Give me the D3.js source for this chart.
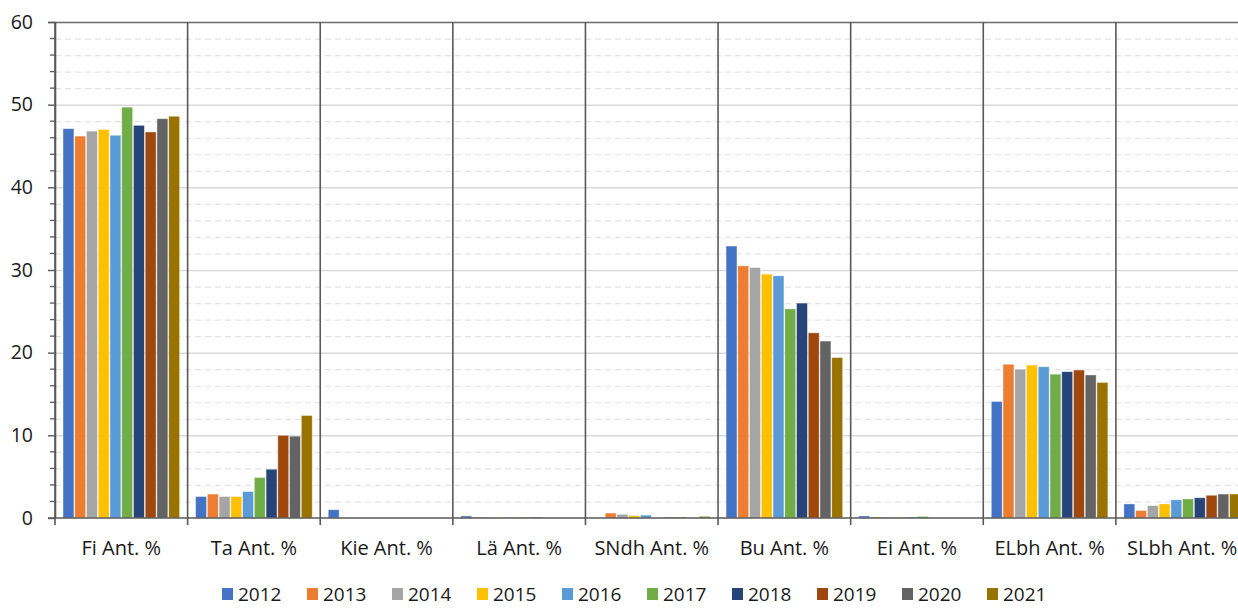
<!DOCTYPE html>
<html lang="de">
<head>
  <meta charset="UTF-8">
  <title>Ant. % nach Jahr</title>
  <script src="https://d3js.org/d3.v7.min.js"></script>
  <style>
    body { margin: 0; background: #fff; font-family: "Open Sans", Arial, sans-serif; }
    svg { display: block; }
  </style>
</head>
<body>
  <div id="chart"></div>
  <script>
    const categories = ["Fi Ant. %", "Ta Ant. %", "Kie Ant. %", "Lä Ant. %", "SNdh Ant. %",
                        "Bu Ant. %", "Ei Ant. %", "ELbh Ant. %", "SLbh Ant. %"];
    const years = ["2012", "2013", "2014", "2015", "2016", "2017", "2018", "2019", "2020", "2021"];
    const colors = ["#4472C4", "#ED7D31", "#A5A5A5", "#FFC000", "#5B9BD5",
                    "#70AD47", "#264478", "#9E480E", "#636363", "#997300"];

    // one array per category, values in year order
    const fi   = [47.1, 46.2, 46.8, 47.0, 46.3, 49.7, 47.5, 46.7, 48.3, 48.6];
    const ta   = [2.6, 2.9, 2.6, 2.6, 3.2, 4.9, 5.9, 10.0, 9.9, 12.4];
    const kie  = [1.0, 0, 0, 0, 0, 0, 0, 0, 0, 0];
    const lae  = [0.25, 0.1, 0.08, 0.08, 0.08, 0.08, 0.1, 0, 0, 0];
    const sndh = [0, 0.6, 0.45, 0.3, 0.35, 0, 0.1, 0.1, 0, 0.2];
    const bu   = [32.9, 30.5, 30.3, 29.5, 29.3, 25.3, 26.0, 22.4, 21.4, 19.4];
    const ei   = [0.25, 0.12, 0.1, 0.1, 0.12, 0.2, 0, 0, 0, 0];
    const elbh = [14.1, 18.6, 18.0, 18.5, 18.3, 17.4, 17.7, 17.9, 17.3, 16.4];
    const slbh = [1.7, 0.9, 1.5, 1.7, 2.2, 2.3, 2.45, 2.75, 2.9, 2.9];
    const series = [fi, ta, kie, lae, sndh, bu, ei, elbh, slbh];

    const yTicks = [0, 10, 20, 30, 40, 50, 60];

    const W = 1238, H = 608;
    const plot = {left: 55, right: 1248.5, top: 22, bottom: 518};

    const svg = d3.select("#chart").append("svg")
      .attr("width", W).attr("height", H);

    const x0 = d3.scaleBand().domain(categories).range([plot.left, plot.right]);
    const x1 = d3.scaleBand().domain(years)
      .range([8, x0.bandwidth() - 8]).paddingInner(0.07);
    const y = d3.scaleLinear().domain([0, 60]).range([plot.bottom, plot.top]);

    // minor gridlines (dashed)
    const minor = d3.range(2, 60, 2).filter(v => v % 10 !== 0);
    svg.append("g").selectAll("line").data(minor).enter().append("line")
      .attr("x1", plot.left).attr("x2", W)
      .attr("y1", d => y(d) + 0.5).attr("y2", d => y(d) + 0.5)
      .attr("stroke", "#e4e4e4").attr("stroke-width", 1.2)
      .attr("stroke-dasharray", "6,4");

    // major gridlines
    svg.append("g").selectAll("line").data(yTicks.filter(v => v > 0 && v < 60)).enter().append("line")
      .attr("x1", plot.left).attr("x2", W)
      .attr("y1", d => y(d) + 0.5).attr("y2", d => y(d) + 0.5)
      .attr("stroke", "#d9d9d9").attr("stroke-width", 1.5);

    // top border
    svg.append("line")
      .attr("x1", 48).attr("x2", W)
      .attr("y1", y(60) + 0.5).attr("y2", y(60) + 0.5)
      .attr("stroke", "#6b6b6b").attr("stroke-width", 1.5);

    // bars
    const groups = svg.append("g").selectAll("g")
      .data(categories).enter().append("g")
      .attr("transform", d => `translate(${x0(d)},0)`);

    groups.selectAll("rect")
      .data((c, i) => series[i].map((v, j) => ({year: years[j], value: v, color: colors[j]})))
      .enter().append("rect")
      .attr("x", d => x1(d.year))
      .attr("width", x1.bandwidth())
      .attr("y", d => y(d.value))
      .attr("height", d => y(0) - y(d.value))
      .attr("fill", d => d.color)
      .attr("stroke", "#ffffff").attr("stroke-opacity", 0.5).attr("stroke-width", 0.8);

    // category dividers
    const bounds = categories.map(c => x0(c)).concat([plot.right]);
    svg.append("g").selectAll("line").data(bounds).enter().append("line")
      .attr("x1", d => d).attr("x2", d => d)
      .attr("y1", plot.top).attr("y2", plot.bottom + 7)
      .attr("stroke", "#595959").attr("stroke-width", 1.6);

    // y axis
    const yAxis = svg.append("g")
      .attr("transform", `translate(${plot.left},0)`)
      .call(d3.axisLeft(y).tickValues(yTicks).tickSize(7).tickPadding(15).tickSizeOuter(0));
    yAxis.select(".domain").attr("stroke", "#595959").attr("stroke-width", 1.6);
    yAxis.selectAll(".tick line").attr("stroke", "#595959").attr("stroke-width", 1.4);
    yAxis.selectAll("text")
      .attr("fill", "#1a1a1a")
      .style("font-size", "19.5px")
      .style("font-family", "'Open Sans', sans-serif");

    // minor ticks on y axis
    svg.append("g").selectAll("line").data(minor)
      .enter().append("line")
      .attr("x1", plot.left - 5).attr("x2", plot.left)
      .attr("y1", d => y(d)).attr("y2", d => y(d))
      .attr("stroke", "#595959").attr("stroke-width", 1.3);

    // x axis baseline
    svg.append("line")
      .attr("x1", plot.left - 7).attr("x2", W)
      .attr("y1", y(0)).attr("y2", y(0))
      .attr("stroke", "#595959").attr("stroke-width", 1.6);

    // category labels
    svg.append("g").selectAll("text").data(categories).enter().append("text")
      .attr("x", d => x0(d) + x0.bandwidth() / 2)
      .attr("y", 555)
      .attr("text-anchor", "middle")
      .attr("fill", "#1a1a1a")
      .style("font-size", "20px")
      .text(d => d);

    // legend
    const legend = svg.append("g").selectAll("g")
      .data(years).enter().append("g")
      .attr("transform", (d, i) => `translate(${222 + i * 85},0)`);
    legend.append("rect")
      .attr("x", 0).attr("y", 588).attr("width", 11).attr("height", 12)
      .attr("fill", (d, i) => colors[i]);
    legend.append("text")
      .attr("x", 16).attr("y", 601)
      .attr("fill", "#1a1a1a")
      .style("font-size", "19px")
      .text(d => d);
  </script>
</body>
</html>
